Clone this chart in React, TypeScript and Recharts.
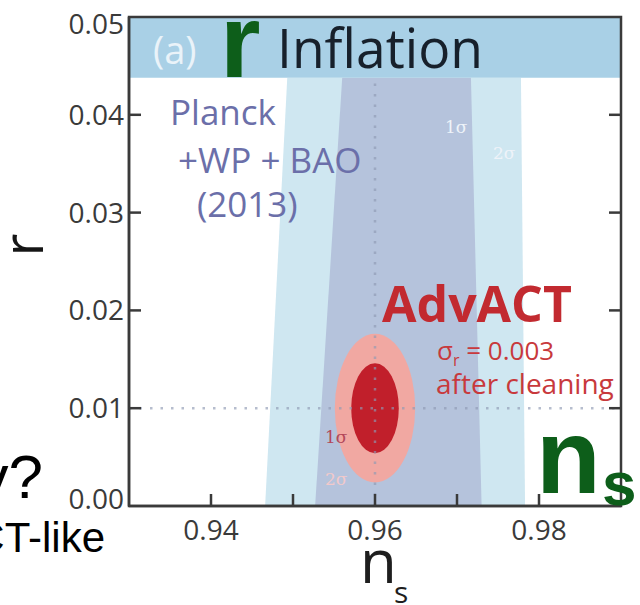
import React from 'react';
import { ComposedChart, Area, XAxis, YAxis, ReferenceArea, ReferenceLine } from 'recharts';

// Planck+WP+BAO bands, edges read at r = 0 and at the bottom of the title bar
const rLevels = [0, 0.0438];
const twoSigmaLow = [0.9466, 0.9493];
const twoSigmaHigh = [0.9783, 0.9778];
const oneSigmaLow = [0.9527, 0.956];
const oneSigmaHigh = [0.973, 0.9717];

// AdvACT forecast ellipses (centre and half widths, 1σ then 2σ)
const advactNs = 0.96;
const advactR = 0.01;
const advactHalfNs = [0.0029, 0.0049];
const advactHalfR = [0.0046, 0.0076];

const nsTicks = [0.94, 0.95, 0.96, 0.97, 0.98];
const nsLabelled = [0.94, 0.96, 0.98];
const rTicks = [0, 0.01, 0.02, 0.03, 0.04, 0.05];
const nsDomain = [0.93, 0.99];
const rDomain = [0, 0.05];
const titleBarFrom = 0.0438;

const PLOT_W = 492;
const AXIS = '#3a3a3a';
const GREEN = '#0d5e1a';
const RED = '#c22a30';

const table = rLevels.map((r, i) => ({
  r,
  twoSigma: [twoSigmaLow[i], twoSigmaHigh[i]],
  oneSigma: [oneSigmaLow[i], oneSigmaHigh[i]],
}));

const XTick = (props: any) => {
  const { x, y, payload } = props;
  const v = payload.value;
  return (
    <g>
      <line x1={x} x2={x} y1={y} y2={y - 12} stroke={AXIS} strokeWidth={2.5} />
      {nsLabelled.includes(v) && (
        <text x={x} y={y + 34} textAnchor="middle" fontFamily="Open Sans" fontSize={28} fill="#3a3a3a">
          {v.toFixed(2)}
        </text>
      )}
    </g>
  );
};

const YTick = (props: any) => {
  const { x, y, payload } = props;
  const v = payload.value;
  const inner = v > rDomain[0] && v < rDomain[1];
  // end labels sit a little inside the frame, as in the figure
  const shift = v === rDomain[0] ? -7 : v === rDomain[1] ? 7 : 0;
  return (
    <g>
      {inner && <line x1={x} x2={x + 12} y1={y} y2={y} stroke={AXIS} strokeWidth={2.5} />}
      {inner && <line x1={x + PLOT_W} x2={x + PLOT_W - 12} y1={y} y2={y} stroke={AXIS} strokeWidth={2.5} />}
      <text x={x - 5} y={y + shift + 10} textAnchor="end" fontFamily="Open Sans" fontSize={28} fill="#3a3a3a">
        {v.toFixed(2)}
      </text>
    </g>
  );
};

const ellipseShape = (fill: string) => (p: any) => (
  <ellipse cx={p.x + p.width / 2} cy={p.y + p.height / 2} rx={p.width / 2} ry={p.height / 2} fill={fill} />
);

export default function App() {
  return (
    <div style={{ position: 'absolute', left: 0, top: 0, width: 640, height: 605, background: '#fff' }}>
      <ComposedChart
        width={640}
        height={605}
        layout="vertical"
        data={table}
        margin={{ top: 17, right: 19, bottom: 0, left: 0 }}
      >
        <XAxis
          type="number"
          domain={nsDomain}
          ticks={nsTicks}
          allowDataOverflow
          height={99}
          tickSize={0}
          tickMargin={0}
          tick={<XTick />}
          axisLine={{ stroke: AXIS, strokeWidth: 2.5 }}
          tickLine={false}
        />
        <YAxis
          type="number"
          dataKey="r"
          domain={rDomain}
          ticks={rTicks}
          reversed
          allowDataOverflow
          width={129}
          tickSize={0}
          tickMargin={0}
          tick={<YTick />}
          axisLine={{ stroke: AXIS, strokeWidth: 2.5 }}
          tickLine={false}
        />
        <Area
          dataKey="twoSigma"
          type="linear"
          stroke="none"
          fill="#cfe7f1"
          fillOpacity={1}
          isAnimationActive={false}
          activeDot={false}
        />
        <Area
          dataKey="oneSigma"
          type="linear"
          stroke="none"
          fill="#b5c3dc"
          fillOpacity={1}
          isAnimationActive={false}
          activeDot={false}
        />
        <ReferenceArea
          x1={advactNs - advactHalfNs[1]}
          x2={advactNs + advactHalfNs[1]}
          y1={advactR - advactHalfR[1]}
          y2={advactR + advactHalfR[1]}
          shape={ellipseShape('#f1a8a2')}
          zIndex={110}
        />
        <ReferenceArea
          x1={advactNs - advactHalfNs[0]}
          x2={advactNs + advactHalfNs[0]}
          y1={advactR - advactHalfR[0]}
          y2={advactR + advactHalfR[0]}
          shape={ellipseShape('#c11f2b')}
          zIndex={120}
        />
        <ReferenceLine
          y={advactR}
          stroke="#8f9ab4"
          strokeWidth={2.5}
          strokeDasharray="2.5 8"
          strokeOpacity={0.65}
          zIndex={130}
        />
        <ReferenceLine
          segment={[{ x: advactNs, y: 0 }, { x: advactNs, y: titleBarFrom }]}
          stroke="#8f9ab4"
          strokeWidth={2.5}
          strokeDasharray="2.5 8"
          strokeOpacity={0.65}
          zIndex={130}
        />
        <ReferenceArea
          x1={nsDomain[0]}
          x2={nsDomain[1]}
          y1={titleBarFrom}
          y2={rDomain[1]}
          fill="#a9d0e6"
          fillOpacity={1}
          stroke="none"
          zIndex={140}
        />
        <ReferenceArea
          x1={nsDomain[0]}
          x2={nsDomain[1]}
          y1={rDomain[0]}
          y2={rDomain[1]}
          fill="none"
          stroke={AXIS}
          strokeWidth={2.5}
          zIndex={150}
        />
      </ComposedChart>

      <svg
        width={640}
        height={605}
        style={{ position: 'absolute', left: 0, top: 0, pointerEvents: 'none' }}
      >
        <text x={153} y={64} fontFamily="Open Sans" fontSize={38} fill="#eaf3f9">(a)</text>
        <text x={220} y={77} fontFamily="Liberation Sans" fontWeight="bold" fontSize={104} fill={GREEN}>r</text>
        <text x={277} y={68} fontFamily="Open Sans" fontSize={54} fill="#17202b" textLength={206} lengthAdjust="spacingAndGlyphs">
          Inflation
        </text>

        <g fontFamily="Open Sans" fontSize={35} fill="#6b6fa9">
          <text x={170} y={125}>Planck</text>
          <text x={178} y={173}>+WP + BAO</text>
          <text x={197} y={217}>(2013)</text>
        </g>

        <g fontFamily="DejaVu Serif" fontSize={17} fill="#eef3f9">
          <text x={445} y={133}>1σ</text>
          <text x={493} y={159}>2σ</text>
        </g>

        <text x={382} y={322} fontFamily="Open Sans" fontWeight="bold" fontSize={50} fill={RED}>AdvACT</text>
        <text x={437} y={360} fontFamily="Open Sans" fontSize={26} fill="#c8393c">
          σ<tspan fontSize={16} dy={6}>r</tspan><tspan dy={-6}> = 0.003</tspan>
        </text>
        <text x={436} y={394} fontFamily="Open Sans" fontSize={28} fill="#c8393c">after cleaning</text>

        <g fontFamily="DejaVu Serif" fontSize={17}>
          <text x={325} y={443} fill="#b3475a">1σ</text>
          <text x={325} y={485} fill="#f2c9cb">2σ</text>
        </g>

        <text x={536} y={493} fontFamily="Liberation Sans" fontWeight="bold" fontSize={106} fill={GREEN}>n</text>
        <text x={602} y={505} fontFamily="Liberation Sans" fontWeight="bold" fontSize={62} fill={GREEN}>s</text>

        <text
          x={43}
          y={245}
          transform="rotate(-90 43 245)"
          textAnchor="middle"
          fontFamily="Open Sans"
          fontSize={56}
          fill="#151515"
        >
          r
        </text>
        <text x={360} y={583} fontFamily="Open Sans" fontSize={60} fill="#1e1e1e">n</text>
        <text x={394} y={603} fontFamily="Open Sans" fontSize={30} fill="#1e1e1e">s</text>

        <text x={43} y={498} textAnchor="end" fontFamily="Liberation Sans" fontSize={62} fill="#000">y?</text>
        <text x={105} y={552} textAnchor="end" fontFamily="Liberation Sans" fontSize={42} fill="#000">CT-like</text>
      </svg>
    </div>
  );
}
